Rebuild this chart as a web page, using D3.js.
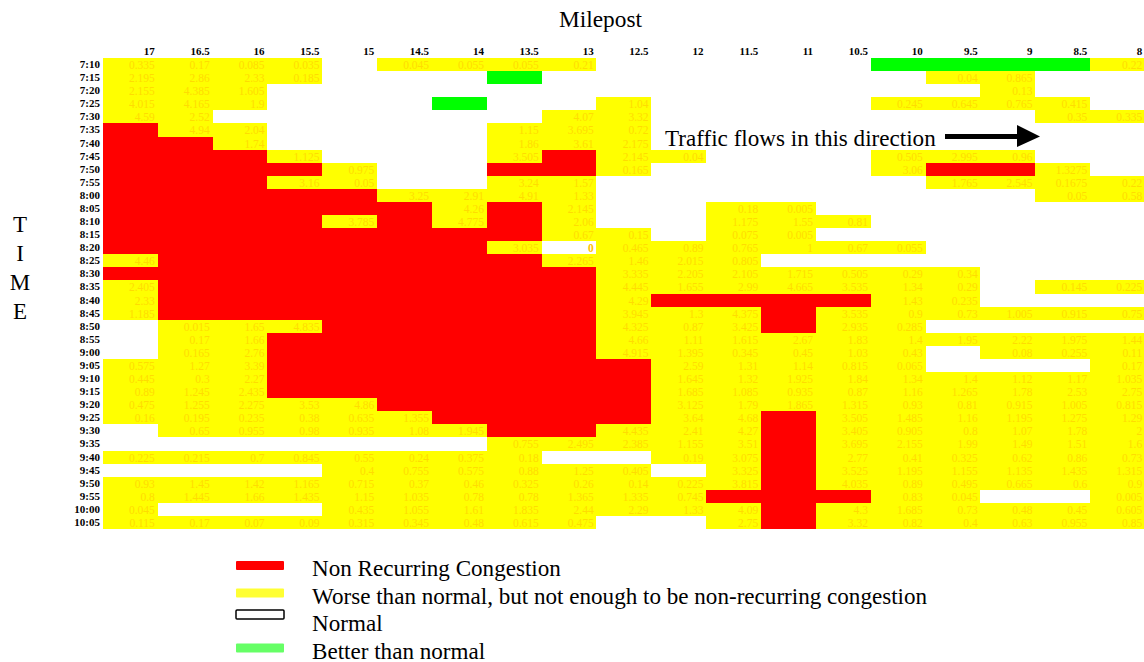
<!DOCTYPE html>
<html>
<head>
<meta charset="utf-8">
<script src="https://d3js.org/d3.v7.min.js"></script>
<style>
body { margin: 0; background: #fff; }
svg { display: block; }
text { font-family: "Liberation Serif", serif; }
.axis text { font-weight: bold; font-size: 11px; fill: #000; }
</style>
</head>
<body>
<div id="chart"></div>
<script>
var R = "R", G = "G", _ = null;

var mileposts = ["17","16.5","16","15.5","15","14.5","14","13.5","13","12.5","12","11.5","11","10.5","10","9.5","9","8.5","8"];
var times = ["7:10","7:15","7:20","7:25","7:30","7:35","7:40","7:45","7:50","7:55",
             "8:00","8:05","8:10","8:15","8:20","8:25","8:30","8:35","8:40","8:45","8:50","8:55",
             "9:00","9:05","9:10","9:15","9:20","9:25","9:30","9:35","9:40","9:45","9:50","9:55",
             "10:00","10:05"];

// one row per time, one entry per milepost. R = non recurring, G = better than normal, _ = normal
var delays = [
 [.335,.17,.085,.035,_,.045,.055,.055,.21,_,_,_,_,_,G,G,G,G,.22],
 [2.195,2.86,2.33,.185,_,_,_,G,_,_,_,_,_,_,_,.04,.865,_,_],
 [2.155,4.385,1.605,_,_,_,_,_,_,_,_,_,_,_,_,_,.13,_,_],
 [4.015,4.165,1.9,_,_,_,G,_,_,1.04,_,_,_,_,.245,.645,.765,.415,_],
 [4.59,2.52,_,_,_,_,_,_,4.07,3.32,_,_,_,_,_,_,_,.35,.335],
 [R,4.94,2.04,_,_,_,_,1.15,3.695,.72,_,_,_,_,_,_,_,_,_],
 [R,R,1.74,_,_,_,_,1.86,3.61,2.175,_,_,_,_,_,_,_,_,_],
 [R,R,R,1.125,_,_,_,3.505,R,2.145,.04,_,_,_,.505,2.995,.96,_,_],
 [R,R,R,R,.975,_,_,R,R,.165,_,_,_,_,3.06,R,R,1.3275,_],
 [R,R,R,3.16,.05,_,_,3.24,1.57,_,_,_,_,_,_,1.765,2.545,.1675,.22],
 [R,R,R,R,R,3.25,2.91,4.91,1.33,_,_,_,_,_,_,_,_,.05,.58],
 [R,R,R,R,R,R,4.26,R,2.145,_,_,.18,.005,_,_,_,_,_,_],
 [R,R,R,R,3.785,R,4.775,R,2.06,_,_,1.175,1.55,.81,_,_,_,_,_],
 [R,R,R,R,R,R,R,R,.67,.15,_,.075,.005,_,_,_,_,_,_],
 [R,R,R,R,R,R,R,3.035,0,.465,.89,.765,1,.67,.055,_,_,_,_],
 [4.46,R,R,R,R,R,R,R,2.265,1.46,2.015,.805,_,_,_,_,_,_,_],
 [R,R,R,R,R,R,R,R,R,3.335,2.205,2.105,1.715,.505,.29,.34,_,_,_],
 [2.405,R,R,R,R,R,R,R,R,4.445,1.655,2.99,4.665,3.535,1.34,.29,_,.145,.225],
 [2.33,R,R,R,R,R,R,R,R,4.29,R,R,R,R,1.43,.235,_,_,_],
 [1.185,R,R,R,R,R,R,R,R,3.945,1.3,4.375,R,3.535,.9,.73,1.005,.915,.75],
 [_,.015,1.65,4.835,R,R,R,R,R,4.325,.87,3.425,R,2.935,.285,_,_,_,_],
 [_,.17,1.66,R,R,R,R,R,R,4.66,1.11,1.615,2.67,1.83,1.4,1.95,2.22,1.975,1.44],
 [_,.165,2.76,R,R,R,R,R,R,4.915,1.395,.345,.45,1.03,.43,_,.08,.255,.11],
 [.575,1.27,3.39,R,R,R,R,R,R,R,2.59,1.31,1.14,.815,.065,_,_,_,.17],
 [.445,.3,2.27,R,R,R,R,R,R,R,1.645,1.32,1.925,1.84,1.34,1.4,1.12,1.17,1.035],
 [.89,1.245,2.435,R,R,R,R,R,R,R,1.685,1.085,.935,.87,1.16,1.265,1.78,2.53,2.75],
 [.475,1.255,2.275,3.53,4.86,R,R,R,R,R,3.125,1.79,1.865,1.315,.93,.81,.915,1.005,.815],
 [.16,.195,.235,.38,.635,1.355,R,R,R,R,3.64,4.68,R,3.505,1.485,1.16,1.195,1.275,1.29],
 [_,.65,.955,.98,.935,1.08,1.945,R,R,4.435,2.41,4.27,R,3.405,.905,.8,1.07,1.78,2],
 [_,_,_,_,_,_,_,.755,2.495,2.385,1.155,3.51,R,3.695,2.155,1.99,1.49,1.51,1.6],
 [.225,.215,.7,.845,.55,.24,.375,.18,_,_,.19,3.075,R,2.77,.41,.325,.62,.86,.73],
 [_,_,_,_,.4,.755,.575,.88,1.25,.405,_,3.325,R,3.525,1.195,1.155,1.135,1.435,1.315],
 [.93,1.45,1.42,1.165,.715,.37,.46,.325,.26,.14,.225,3.815,R,4.035,.89,.495,.665,.6,.9],
 [.8,1.445,1.66,1.435,1.15,1.035,.78,.78,1.365,1.335,.745,R,R,R,.83,.045,_,_,.005],
 [.045,_,_,_,.435,1.055,1.61,1.835,2.44,2.29,1.33,4.09,R,4.3,1.685,.73,.48,.45,.605],
 [.115,.17,.07,.09,.315,.345,.48,.615,.475,_,_,2.75,R,3.32,.82,.4,.63,.955,.85]
];

var legendLabels = ["Non Recurring Congestion",
                    "Worse than normal, but not enough to be non-recurring congestion",
                    "Normal",
                    "Better than normal"];
var legendColors = ["#ff0000", "#ffff33", "#ffffff", "#66ff66"];
var timeLetters = ["T", "I", "M", "E"];

var w = 1144;
var h = 662;

var xscale = d3.scaleBand()
                .domain(mileposts)
                .range([102.8, 1145]);

var yscale = d3.scaleBand()
                .domain(times)
                .range([58, 529]);

var svg = d3.select("#chart")
            .append("svg")
            .attr("width", w)
            .attr("height", h);

///////// CELLS /////////
var cells = [];
delays.forEach(function(row, i) {
    row.forEach(function(v, j) {
        cells.push({time: times[i], milepost: mileposts[j], value: v});
    });
});

function cellColor(v) {
    if (v === R) return "#ff0000";
    if (v === G) return "#00ff00";
    if (v === null || v === 0) return "#ffffff";
    return "#ffff00";
}

svg.selectAll("rect.cell")
    .data(cells)
    .enter()
    .append("rect")
    .attr("class", "cell")
    .attr("x", function(d) { return xscale(d.milepost); })
    .attr("y", function(d) { return yscale(d.time); })
    .attr("width", xscale.bandwidth())
    .attr("height", yscale.bandwidth())
    .attr("shape-rendering", "crispEdges")
    .attr("fill", function(d) { return cellColor(d.value); });

svg.selectAll("text.value")
    .data(cells.filter(function(d) { return typeof d.value === "number"; }))
    .enter()
    .append("text")
    .attr("class", "value")
    .attr("x", function(d) { return xscale(d.milepost) + xscale.bandwidth() - 2.8; })
    .attr("y", function(d) { return yscale(d.time) + 11; })
    .attr("text-anchor", "end")
    .attr("font-size", "11.5px")
    .attr("font-weight", function(d) { return d.value === 0 ? "bold" : "normal"; })
    .attr("fill", function(d) { return d.value === 0 ? "#ffc000" : "#ffdc00"; })
    .text(function(d) { return d.value; });

///////// AXES /////////
var xaxis = d3.axisTop(xscale).tickSize(0).tickPadding(0);
var yaxis = d3.axisLeft(yscale).tickSize(0).tickPadding(0);

var gx = svg.append("g")
    .attr("class", "axis")
    .attr("transform", "translate(0,55)")
    .call(xaxis);
gx.select(".domain").remove();
gx.selectAll("text")
    .attr("text-anchor", "end")
    .attr("x", xscale.bandwidth() / 2 - 2.8);

var gy = svg.append("g")
    .attr("class", "axis")
    .attr("transform", "translate(100,0)")
    .call(yaxis);
gy.select(".domain").remove();

///////// TITLES /////////
svg.append("text")
    .attr("x", 600.5)
    .attr("y", 27)
    .attr("text-anchor", "middle")
    .attr("font-size", "23.3px")
    .text("Milepost");

svg.selectAll("text.letter")
    .data(timeLetters)
    .enter()
    .append("text")
    .attr("class", "letter")
    .attr("x", 20)
    .attr("y", function(d, i) { return 232 + i * 29; })
    .attr("text-anchor", "middle")
    .attr("font-size", "23px")
    .text(function(d) { return d; });

///////// DIRECTION NOTE /////////
svg.append("text")
    .attr("x", 665)
    .attr("y", 146)
    .attr("font-size", "23.1px")
    .text("Traffic flows in this direction");

svg.append("line")
    .attr("x1", 945)
    .attr("y1", 136.5)
    .attr("x2", 1020)
    .attr("y2", 136.5)
    .attr("stroke", "#000")
    .attr("stroke-width", 5);

svg.append("path")
    .attr("d", "M1017,125 L1040,136.5 L1017,147 Z")
    .attr("fill", "#000");

///////// LEGEND /////////
var legend = svg.selectAll("g.legend")
    .data(legendLabels)
    .enter()
    .append("g")
    .attr("class", "legend")
    .attr("transform", function(d, i) { return "translate(0," + (561 + i * 27.5) + ")"; });

legend.append("rect")
    .attr("x", 236)
    .attr("y", function(d, i) { return i === 2 ? -6 : 0; })
    .attr("width", 48)
    .attr("height", 9)
    .attr("rx", 1)
    .attr("fill", function(d, i) { return legendColors[i]; })
    .attr("stroke", function(d, i) { return i === 2 ? "#000" : "none"; })
    .attr("stroke-width", 1.5);

legend.append("text")
    .attr("x", 312)
    .attr("y", 15)
    .attr("font-size", "23.1px")
    .text(function(d) { return d; });
</script>
</body>
</html>
